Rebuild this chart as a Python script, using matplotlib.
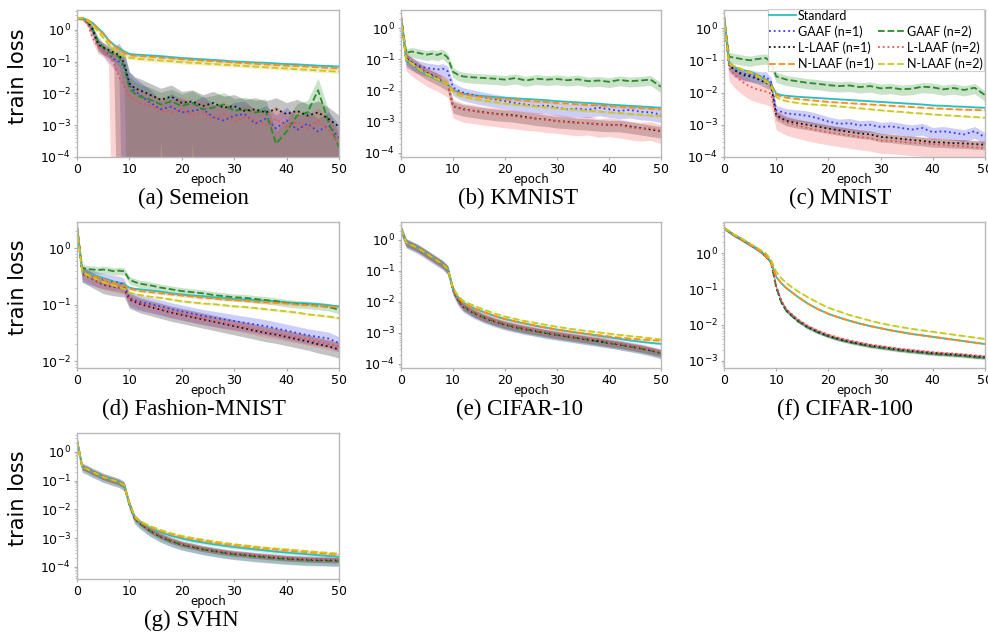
import numpy as np
import matplotlib
matplotlib.use('Agg')
import matplotlib.pyplot as plt
from matplotlib.lines import Line2D
from matplotlib.ticker import NullFormatter, LogLocator

# epochs at which the training loss was logged
epochs = [0, 1, 2, 3, 4, 5, 6, 7, 8, 9, 10, 11, 12,
          14, 16, 18, 20, 22, 24, 26, 28, 30, 32, 34, 36, 38, 40, 42, 44, 46, 48, 50]

names = ['std', 'gaaf1', 'gaaf2', 'llaaf1', 'llaaf2', 'nlaaf1', 'nlaaf2']
labels = {'std': 'Standard', 'gaaf1': 'GAAF (n=1)', 'gaaf2': 'GAAF (n=2)',
          'llaaf1': 'L-LAAF (n=1)', 'llaaf2': 'L-LAAF (n=2)',
          'nlaaf1': 'N-LAAF (n=1)', 'nlaaf2': 'N-LAAF (n=2)'}

# mean train loss, log10
semeion = {
    'std':    [0.37, 0.37, 0.30, 0.21, 0.05, -0.10, -0.32, -0.47, -0.58, -0.68, -0.76, -0.78, -0.79, -0.81, -0.83, -0.86, -0.89, -0.91, -0.93, -0.95, -0.97, -1.00, -1.01, -1.03, -1.04, -1.06, -1.08, -1.09, -1.11, -1.13, -1.14, -1.16],
    'gaaf1':  [0.37, 0.36, 0.24, -0.05, -0.38, -0.60, -0.78, -0.92, -1.00, -1.15, -1.74, -1.92, -2.05, -2.30, -2.50, -2.42, -2.60, -2.55, -2.50, -2.75, -2.85, -2.70, -2.65, -2.95, -2.80, -3.10, -2.85, -3.15, -2.95, -3.20, -3.00, -3.40],
    'gaaf2':  [0.37, 0.36, 0.25, 0.00, -0.35, -0.55, -0.68, -0.78, -0.84, -1.16, -1.84, -2.00, -2.10, -2.20, -2.35, -2.25, -2.40, -2.30, -2.50, -2.45, -2.35, -2.55, -2.50, -2.60, -2.55, -3.58, -3.20, -2.70, -2.60, -1.90, -2.90, -3.70],
    'llaaf1': [0.37, 0.36, 0.26, 0.02, -0.47, -0.56, -0.63, -0.72, -0.79, -1.05, -1.68, -1.84, -1.90, -2.05, -2.20, -2.10, -2.30, -2.25, -2.40, -2.30, -2.45, -2.40, -2.55, -2.50, -2.60, -2.50, -2.65, -2.55, -2.70, -2.60, -2.80, -3.05],
    'llaaf2': [0.37, 0.35, 0.20, -0.26, -0.53, -0.63, -0.79, -1.05, -1.47, -1.79, -2.10, -2.20, -2.30, -2.40, -2.55, -2.60, -2.50, -2.70, -2.60, -2.80, -2.65, -2.90, -2.75, -2.85, -3.00, -2.80, -3.05, -2.90, -3.10, -2.85, -3.15, -3.55],
    'nlaaf1': [0.37, 0.37, 0.31, 0.20, 0.03, -0.13, -0.34, -0.50, -0.62, -0.72, -0.80, -0.82, -0.83, -0.85, -0.88, -0.90, -0.93, -0.95, -0.97, -0.99, -1.01, -1.03, -1.05, -1.07, -1.09, -1.11, -1.13, -1.14, -1.16, -1.18, -1.20, -1.22],
    'nlaaf2': [0.37, 0.36, 0.28, 0.15, -0.05, -0.25, -0.45, -0.62, -0.75, -0.83, -0.88, -0.90, -0.92, -0.94, -0.97, -0.99, -1.02, -1.04, -1.06, -1.08, -1.10, -1.12, -1.14, -1.16, -1.18, -1.20, -1.22, -1.24, -1.26, -1.28, -1.30, -1.32],
}
kmnist = {
    'std':    [0.37, -1.06, -1.18, -1.30, -1.40, -1.50, -1.58, -1.65, -1.72, -1.80, -1.97, -2.05, -2.10, -2.15, -2.18, -2.21, -2.23, -2.25, -2.27, -2.29, -2.31, -2.34, -2.36, -2.38, -2.40, -2.42, -2.45, -2.47, -2.49, -2.51, -2.53, -2.55],
    'gaaf1':  [0.37, -1.00, -1.10, -1.18, -1.24, -1.28, -1.30, -1.33, -1.30, -1.38, -1.90, -2.00, -2.07, -2.15, -2.22, -2.28, -2.34, -2.40, -2.45, -2.50, -2.48, -2.55, -2.60, -2.58, -2.62, -2.55, -2.60, -2.65, -2.62, -2.68, -2.70, -2.77],
    'gaaf2':  [0.37, -0.80, -0.75, -0.78, -0.82, -0.85, -0.82, -0.86, -0.80, -0.95, -1.40, -1.50, -1.55, -1.58, -1.60, -1.62, -1.65, -1.60, -1.68, -1.62, -1.65, -1.63, -1.67, -1.64, -1.70, -1.68, -1.72, -1.66, -1.70, -1.68, -1.65, -1.88],
    'llaaf1': [0.37, -0.96, -1.10, -1.22, -1.33, -1.44, -1.52, -1.60, -1.70, -1.80, -2.50, -2.55, -2.60, -2.65, -2.70, -2.74, -2.77, -2.80, -2.85, -2.90, -2.93, -2.98, -3.00, -3.03, -3.05, -3.08, -3.10, -3.10, -3.15, -3.20, -3.25, -3.30],
    'llaaf2': [0.37, -0.98, -1.13, -1.25, -1.36, -1.47, -1.55, -1.62, -1.72, -1.82, -2.48, -2.55, -2.62, -2.66, -2.72, -2.75, -2.80, -2.83, -2.88, -2.90, -2.95, -2.97, -3.02, -3.05, -3.03, -3.10, -3.08, -3.12, -3.18, -3.22, -3.20, -3.30],
    'nlaaf1': [0.37, -1.02, -1.15, -1.27, -1.38, -1.48, -1.56, -1.63, -1.70, -1.78, -1.98, -2.07, -2.12, -2.18, -2.22, -2.25, -2.28, -2.30, -2.33, -2.35, -2.37, -2.40, -2.42, -2.44, -2.46, -2.48, -2.50, -2.52, -2.54, -2.56, -2.58, -2.60],
    'nlaaf2': [0.37, -1.00, -1.12, -1.25, -1.36, -1.47, -1.56, -1.64, -1.72, -1.80, -2.05, -2.15, -2.20, -2.27, -2.32, -2.37, -2.42, -2.45, -2.48, -2.51, -2.54, -2.57, -2.60, -2.62, -2.65, -2.67, -2.70, -2.72, -2.75, -2.77, -2.80, -2.82],
}
mnist = {
    'std':    [0.37, -1.15, -1.22, -1.28, -1.32, -1.35, -1.42, -1.50, -1.60, -1.72, -2.03, -2.08, -2.10, -2.13, -2.15, -2.17, -2.19, -2.21, -2.23, -2.25, -2.27, -2.29, -2.31, -2.33, -2.35, -2.37, -2.40, -2.41, -2.43, -2.44, -2.46, -2.47],
    'gaaf1':  [0.37, -1.15, -1.30, -1.38, -1.42, -1.45, -1.48, -1.50, -1.50, -1.67, -2.55, -2.60, -2.65, -2.68, -2.72, -2.80, -2.90, -2.97, -2.95, -3.02, -3.00, -3.07, -3.05, -3.10, -3.15, -3.10, -3.23, -3.20, -3.25, -3.30, -3.20, -3.39],
    'gaaf2':  [0.37, -0.89, -0.92, -0.95, -0.98, -1.00, -0.97, -0.95, -0.93, -1.05, -1.50, -1.55, -1.60, -1.65, -1.70, -1.73, -1.77, -1.80, -1.78, -1.83, -1.80, -1.87, -1.85, -1.90, -1.88, -1.82, -1.84, -1.90, -1.86, -1.92, -1.85, -2.08],
    'llaaf1': [0.37, -1.15, -1.30, -1.40, -1.47, -1.50, -1.55, -1.62, -1.70, -1.77, -2.70, -2.80, -2.88, -2.95, -3.00, -3.06, -3.12, -3.17, -3.22, -3.27, -3.30, -3.38, -3.40, -3.44, -3.47, -3.50, -3.54, -3.55, -3.57, -3.58, -3.60, -3.62],
    'llaaf2': [0.37, -1.25, -1.45, -1.60, -1.72, -1.82, -1.88, -1.93, -1.97, -2.03, -2.76, -2.85, -2.93, -3.02, -3.10, -3.17, -3.23, -3.28, -3.33, -3.38, -3.42, -3.49, -3.50, -3.53, -3.56, -3.58, -3.60, -3.62, -3.65, -3.67, -3.70, -3.72],
    'nlaaf1': [0.37, -1.12, -1.20, -1.26, -1.31, -1.36, -1.44, -1.52, -1.62, -1.75, -2.07, -2.13, -2.16, -2.20, -2.23, -2.26, -2.29, -2.31, -2.33, -2.35, -2.37, -2.39, -2.41, -2.43, -2.45, -2.47, -2.49, -2.50, -2.52, -2.53, -2.54, -2.55],
    'nlaaf2': [0.37, -1.10, -1.18, -1.25, -1.32, -1.38, -1.46, -1.55, -1.65, -1.80, -2.14, -2.22, -2.27, -2.32, -2.36, -2.38, -2.40, -2.43, -2.46, -2.49, -2.52, -2.55, -2.58, -2.60, -2.63, -2.65, -2.68, -2.70, -2.72, -2.74, -2.76, -2.78],
}
fashion = {
    'std':    [0.37, -0.41, -0.45, -0.48, -0.50, -0.53, -0.56, -0.59, -0.62, -0.65, -0.70, -0.72, -0.73, -0.75, -0.77, -0.80, -0.82, -0.84, -0.85, -0.87, -0.88, -0.90, -0.91, -0.92, -0.93, -0.94, -0.96, -0.97, -0.98, -0.99, -1.01, -1.03],
    'gaaf1':  [0.37, -0.44, -0.48, -0.51, -0.54, -0.56, -0.58, -0.60, -0.61, -0.65, -0.88, -0.92, -0.95, -0.99, -1.03, -1.08, -1.12, -1.16, -1.20, -1.23, -1.26, -1.29, -1.32, -1.35, -1.38, -1.42, -1.46, -1.50, -1.54, -1.57, -1.60, -1.68],
    'gaaf2':  [0.37, -0.35, -0.37, -0.38, -0.39, -0.38, -0.39, -0.41, -0.40, -0.41, -0.56, -0.60, -0.63, -0.66, -0.70, -0.73, -0.76, -0.78, -0.80, -0.83, -0.85, -0.87, -0.88, -0.90, -0.92, -0.94, -0.97, -0.99, -1.00, -1.02, -1.04, -1.09],
    'llaaf1': [0.37, -0.45, -0.50, -0.55, -0.60, -0.65, -0.67, -0.69, -0.70, -0.71, -0.91, -0.95, -0.99, -1.04, -1.09, -1.14, -1.18, -1.22, -1.26, -1.30, -1.34, -1.38, -1.42, -1.46, -1.50, -1.53, -1.57, -1.61, -1.65, -1.70, -1.74, -1.79],
    'llaaf2': [0.37, -0.44, -0.50, -0.55, -0.60, -0.64, -0.66, -0.68, -0.70, -0.72, -0.90, -0.94, -0.98, -1.03, -1.08, -1.13, -1.17, -1.21, -1.25, -1.29, -1.33, -1.36, -1.40, -1.44, -1.48, -1.51, -1.55, -1.58, -1.62, -1.66, -1.70, -1.74],
    'nlaaf1': [0.37, -0.42, -0.46, -0.49, -0.52, -0.55, -0.58, -0.61, -0.64, -0.67, -0.72, -0.74, -0.76, -0.78, -0.80, -0.82, -0.84, -0.86, -0.88, -0.89, -0.91, -0.92, -0.93, -0.95, -0.96, -0.97, -0.98, -1.00, -1.01, -1.02, -1.03, -1.05],
    'nlaaf2': [0.37, -0.43, -0.48, -0.52, -0.56, -0.60, -0.63, -0.66, -0.69, -0.72, -0.79, -0.81, -0.83, -0.86, -0.88, -0.91, -0.94, -0.96, -0.98, -0.99, -1.01, -1.03, -1.04, -1.06, -1.08, -1.10, -1.12, -1.14, -1.17, -1.19, -1.21, -1.24],
}
cifar10 = {
    'std':    [0.36, -0.08, -0.16, -0.24, -0.34, -0.45, -0.56, -0.67, -0.78, -0.94, -1.58, -1.86, -2.03, -2.20, -2.33, -2.45, -2.55, -2.63, -2.70, -2.77, -2.83, -2.89, -2.94, -2.99, -3.04, -3.09, -3.14, -3.19, -3.24, -3.28, -3.32, -3.35],
    'gaaf1':  [0.36, -0.08, -0.16, -0.24, -0.34, -0.45, -0.56, -0.67, -0.78, -0.94, -1.62, -1.95, -2.15, -2.35, -2.50, -2.62, -2.72, -2.80, -2.87, -2.93, -3.00, -3.05, -3.10, -3.15, -3.20, -3.25, -3.30, -3.36, -3.42, -3.48, -3.56, -3.65],
    'gaaf2':  [0.36, -0.08, -0.16, -0.24, -0.34, -0.45, -0.56, -0.67, -0.78, -0.94, -1.60, -1.93, -2.14, -2.34, -2.50, -2.62, -2.73, -2.81, -2.88, -2.95, -3.01, -3.06, -3.12, -3.17, -3.22, -3.27, -3.33, -3.38, -3.44, -3.50, -3.57, -3.66],
    'llaaf1': [0.36, -0.08, -0.16, -0.24, -0.34, -0.45, -0.56, -0.67, -0.78, -0.94, -1.60, -1.94, -2.15, -2.36, -2.51, -2.63, -2.73, -2.81, -2.88, -2.94, -3.00, -3.06, -3.11, -3.16, -3.21, -3.27, -3.32, -3.37, -3.43, -3.49, -3.56, -3.64],
    'llaaf2': [0.36, -0.08, -0.16, -0.24, -0.34, -0.45, -0.56, -0.67, -0.78, -0.94, -1.58, -1.92, -2.13, -2.34, -2.49, -2.61, -2.71, -2.79, -2.86, -2.92, -2.98, -3.04, -3.09, -3.14, -3.19, -3.20, -3.30, -3.35, -3.41, -3.47, -3.54, -3.62],
    'nlaaf1': [0.36, -0.08, -0.16, -0.24, -0.34, -0.45, -0.56, -0.67, -0.78, -0.94, -1.58, -1.86, -2.03, -2.20, -2.33, -2.45, -2.55, -2.63, -2.70, -2.77, -2.83, -2.89, -2.94, -2.99, -3.03, -3.07, -3.11, -3.15, -3.18, -3.21, -3.23, -3.25],
    'nlaaf2': [0.36, -0.08, -0.16, -0.24, -0.34, -0.45, -0.56, -0.67, -0.78, -0.94, -1.55, -1.80, -1.97, -2.12, -2.25, -2.37, -2.47, -2.55, -2.62, -2.68, -2.74, -2.80, -2.85, -2.90, -2.94, -2.98, -3.02, -3.06, -3.10, -3.13, -3.17, -3.21],
}
cifar100 = {
    'std':    [0.70, 0.60, 0.50, 0.42, 0.33, 0.24, 0.15, 0.05, -0.08, -0.25, -0.66, -0.84, -0.98, -1.20, -1.40, -1.56, -1.69, -1.79, -1.88, -1.96, -2.03, -2.09, -2.15, -2.20, -2.25, -2.29, -2.33, -2.37, -2.41, -2.45, -2.49, -2.53],
    'gaaf1':  [0.70, 0.60, 0.50, 0.42, 0.33, 0.24, 0.15, 0.05, -0.08, -0.25, -0.94, -1.36, -1.60, -1.86, -2.05, -2.19, -2.30, -2.39, -2.46, -2.52, -2.58, -2.62, -2.66, -2.70, -2.73, -2.76, -2.79, -2.81, -2.83, -2.85, -2.88, -2.90],
    'gaaf2':  [0.70, 0.60, 0.50, 0.42, 0.33, 0.24, 0.15, 0.05, -0.08, -0.25, -0.95, -1.38, -1.62, -1.88, -2.07, -2.21, -2.32, -2.41, -2.48, -2.54, -2.60, -2.64, -2.68, -2.72, -2.75, -2.78, -2.81, -2.83, -2.85, -2.87, -2.90, -2.92],
    'llaaf1': [0.70, 0.60, 0.50, 0.42, 0.33, 0.24, 0.15, 0.05, -0.08, -0.25, -0.94, -1.36, -1.60, -1.86, -2.05, -2.19, -2.30, -2.39, -2.46, -2.52, -2.57, -2.61, -2.65, -2.69, -2.72, -2.75, -2.78, -2.80, -2.82, -2.84, -2.87, -2.89],
    'llaaf2': [0.70, 0.60, 0.50, 0.42, 0.33, 0.24, 0.15, 0.05, -0.08, -0.25, -0.92, -1.33, -1.57, -1.83, -2.02, -2.16, -2.27, -2.36, -2.43, -2.49, -2.55, -2.59, -2.63, -2.67, -2.70, -2.73, -2.76, -2.78, -2.80, -2.82, -2.85, -2.87],
    'nlaaf1': [0.70, 0.60, 0.50, 0.42, 0.33, 0.24, 0.15, 0.05, -0.08, -0.25, -0.66, -0.84, -0.98, -1.20, -1.40, -1.56, -1.69, -1.79, -1.88, -1.96, -2.03, -2.09, -2.15, -2.20, -2.25, -2.29, -2.33, -2.37, -2.41, -2.45, -2.49, -2.53],
    'nlaaf2': [0.70, 0.61, 0.52, 0.44, 0.36, 0.27, 0.18, 0.09, 0.00, -0.18, -0.52, -0.70, -0.84, -1.05, -1.22, -1.38, -1.52, -1.62, -1.72, -1.80, -1.88, -1.95, -2.01, -2.06, -2.11, -2.15, -2.19, -2.23, -2.27, -2.31, -2.35, -2.39],
}
svhn = {
    'std':    [0.38, -0.52, -0.60, -0.70, -0.78, -0.87, -0.93, -0.99, -1.05, -1.16, -1.80, -2.28, -2.46, -2.65, -2.80, -2.92, -3.01, -3.09, -3.15, -3.21, -3.26, -3.31, -3.35, -3.39, -3.43, -3.47, -3.50, -3.53, -3.56, -3.59, -3.62, -3.65],
    'gaaf1':  [0.38, -0.52, -0.60, -0.70, -0.78, -0.87, -0.93, -0.99, -1.05, -1.16, -1.82, -2.30, -2.48, -2.75, -2.95, -3.10, -3.22, -3.30, -3.38, -3.44, -3.50, -3.55, -3.58, -3.62, -3.65, -3.68, -3.71, -3.73, -3.75, -3.76, -3.77, -3.78],
    'gaaf2':  [0.38, -0.52, -0.60, -0.70, -0.78, -0.87, -0.93, -0.99, -1.05, -1.16, -1.82, -2.31, -2.49, -2.76, -2.96, -3.11, -3.23, -3.31, -3.39, -3.45, -3.51, -3.56, -3.60, -3.64, -3.67, -3.70, -3.73, -3.75, -3.77, -3.78, -3.79, -3.80],
    'llaaf1': [0.38, -0.52, -0.60, -0.70, -0.78, -0.87, -0.93, -0.99, -1.05, -1.16, -1.81, -2.29, -2.47, -2.74, -2.94, -3.09, -3.21, -3.29, -3.37, -3.43, -3.49, -3.54, -3.57, -3.61, -3.64, -3.67, -3.70, -3.72, -3.74, -3.75, -3.76, -3.77],
    'llaaf2': [0.38, -0.52, -0.60, -0.70, -0.78, -0.87, -0.93, -0.99, -1.05, -1.16, -1.80, -2.28, -2.46, -2.72, -2.92, -3.07, -3.19, -3.27, -3.35, -3.41, -3.47, -3.52, -3.55, -3.59, -3.62, -3.65, -3.68, -3.70, -3.72, -3.73, -3.74, -3.75],
    'nlaaf1': [0.38, -0.52, -0.60, -0.70, -0.78, -0.87, -0.93, -0.99, -1.05, -1.16, -1.80, -2.27, -2.44, -2.62, -2.76, -2.87, -2.96, -3.03, -3.09, -3.15, -3.20, -3.25, -3.29, -3.33, -3.37, -3.40, -3.43, -3.46, -3.49, -3.52, -3.55, -3.58],
    'nlaaf2': [0.38, -0.52, -0.60, -0.70, -0.78, -0.87, -0.93, -0.99, -1.05, -1.16, -1.78, -2.24, -2.40, -2.58, -2.72, -2.83, -2.92, -2.99, -3.05, -3.11, -3.16, -3.21, -3.25, -3.29, -3.33, -3.36, -3.39, -3.42, -3.45, -3.48, -3.51, -3.54],
}

# relative std of the loss over runs (band = mean * (1 +- r))
semeion_spread = {
    'std': 0.12, 'nlaaf1': 0.12, 'nlaaf2': 0.12,
    'gaaf1':  [0.10, 0.10, 0.20, 0.30, 0.40, 0.40, 0.40, 0.50, 0.60, 1.60, 1.60, 1.60, 1.60, 1.60, 0.90, 1.60, 1.60, 0.90, 1.60, 1.60, 1.60, 1.60, 1.60, 1.60, 1.60, 1.60, 1.60, 1.60, 1.60, 1.60, 1.60, 1.60],
    'gaaf2':  [0.10, 0.10, 0.20, 0.30, 0.40, 0.40, 0.40, 0.40, 0.50, 0.80, 1.40, 1.40, 1.40, 1.40, 1.40, 1.40, 1.40, 1.40, 1.40, 1.40, 1.40, 1.40, 1.40, 1.40, 1.40, 1.40, 1.40, 1.40, 1.40, 1.40, 1.40, 1.40],
    'llaaf1': [0.10, 0.10, 0.20, 0.30, 0.40, 0.40, 0.40, 0.50, 1.30, 1.30, 1.30, 1.30, 1.30, 1.30, 1.30, 1.30, 1.30, 1.30, 1.30, 1.30, 1.30, 1.30, 1.30, 1.30, 1.30, 1.30, 1.30, 1.30, 1.30, 1.30, 1.30, 1.30],
    'llaaf2': [0.10, 0.10, 0.20, 0.30, 0.40, 0.40, 0.50, 1.50, 1.50, 1.50, 1.50, 1.50, 1.50, 1.50, 1.50, 1.50, 1.50, 1.50, 1.50, 1.50, 1.50, 1.50, 1.50, 1.50, 1.50, 1.50, 1.50, 1.50, 1.50, 1.50, 1.50, 1.50],
}
kmnist_spread = {'std': 0.08, 'gaaf1': 0.45, 'gaaf2': 0.35, 'llaaf1': 0.4, 'llaaf2': 0.6, 'nlaaf1': 0.1, 'nlaaf2': 0.1}
mnist_spread = {'std': 0.05, 'gaaf1': 0.4, 'gaaf2': 0.35, 'llaaf1': 0.3, 'llaaf2': 0.6, 'nlaaf1': 0.05, 'nlaaf2': 0.05}
fashion_spread = {'std': 0.05, 'gaaf1': 0.3, 'gaaf2': 0.15, 'llaaf1': 0.3, 'llaaf2': 0.2, 'nlaaf1': 0.05, 'nlaaf2': 0.05}
cifar10_spread = {'std': 0.08, 'gaaf1': 0.35, 'gaaf2': 0.3, 'llaaf1': 0.25, 'llaaf2': 0.25, 'nlaaf1': 0.08, 'nlaaf2': 0.08}
cifar100_spread = {'std': 0.05, 'gaaf1': 0.1, 'gaaf2': 0.1, 'llaaf1': 0.1, 'llaaf2': 0.1, 'nlaaf1': 0.05, 'nlaaf2': 0.05}
svhn_spread = {'std': 0.15, 'gaaf1': 0.35, 'gaaf2': 0.35, 'llaaf1': 0.2, 'llaaf2': 0.2, 'nlaaf1': 0.1, 'nlaaf2': 0.1}

styles = {
    'std':    dict(color='#2bbfbf', ls='-'),
    'gaaf1':  dict(color='#3b3bef', ls=':'),
    'gaaf2':  dict(color='#2a8c2a', ls='--'),
    'llaaf1': dict(color='#111111', ls=':'),
    'llaaf2': dict(color='#f05050', ls=':'),
    'nlaaf1': dict(color='#ff8c1a', ls='--'),
    'nlaaf2': dict(color='#c8c820', ls='--'),
}

fig = plt.figure(figsize=(9.88, 6.32), dpi=100)
W, H = 988.0, 632.0

def make_axes(left, top, w, h):
    return fig.add_axes([left / W, 1 - (top + h) / H, w / W, h / H])

def draw(ax, loss, spread, ylog):
    x = np.array(epochs)
    for n in names:
        m = 10 ** np.array(loss[n])
        r = np.broadcast_to(np.asarray(spread[n], dtype=float), m.shape)
        lo = np.clip(m * (1 - r), 1e-9, None)
        hi = m * (1 + r)
        ax.fill_between(x, lo, hi, color=styles[n]['color'], alpha=0.25, lw=0)
        ax.plot(x, m, lw=1.3, **styles[n])
    ax.set_yscale('log')
    ax.set_xlim(0, 50)
    ax.set_ylim(10 ** ylog[0], 10 ** ylog[1])
    ax.set_xticks([0, 10, 20, 30, 40, 50])
    ax.yaxis.set_major_locator(LogLocator(base=10, numticks=10))
    ax.yaxis.set_minor_locator(LogLocator(base=10, subs=np.arange(2, 10), numticks=20))
    ax.yaxis.set_minor_formatter(NullFormatter())
    ax.tick_params(which='major', labelsize=9, length=2.5, color='#aaaaaa', pad=2)
    ax.tick_params(which='minor', length=1.2, color='#bbbbbb')
    for s in ax.spines.values():
        s.set_color('#b8b8b8')
        s.set_linewidth(1.0)
    ax.set_xlabel('epoch', fontsize=8.5, labelpad=-2)

panels = [
    (semeion, semeion_spread, (-4.0, 0.62), (77, 10, 262, 147), (193, 204), '(a) Semeion'),
    (kmnist, kmnist_spread, (-4.13, 0.58), (401, 10, 260, 147), (518, 204), '(b) KMNIST'),
    (mnist, mnist_spread, (-4.0, 0.56), (724, 10, 261, 147), (840, 204), '(c) MNIST'),
    (fashion, fashion_spread, (-2.12, 0.46), (77, 222, 262, 146), (194, 415), '(d) Fashion-MNIST'),
    (cifar10, cifar10_spread, (-4.13, 0.58), (401, 222, 260, 146), (520, 415), '(e) CIFAR-10'),
    (cifar100, cifar100_spread, (-3.2, 0.87), (724, 222, 261, 146), (845, 415), '(f) CIFAR-100'),
    (svhn, svhn_spread, (-4.42, 0.66), (77, 433, 262, 146), (191, 626), '(g) SVHN'),
]

axes = []
for loss, spread, ylog, box, cap, title in panels:
    ax = make_axes(*box)
    draw(ax, loss, spread, ylog)
    fig.text(cap[0] / W, 1 - cap[1] / H, title, ha='center', va='baseline',
             fontsize=16.5, family='Liberation Serif')
    axes.append(ax)

# y label only on the left column
for yc in [76, 287, 498]:
    fig.text(18 / W, 1 - yc / H, 'train loss', rotation=90, ha='center', va='center', fontsize=15)

# legend in the MNIST panel, empty slot keeps Standard alone on its row
h = {n: Line2D([], [], lw=1.3, **styles[n]) for n in names}
blank = Line2D([], [], color='none')
order = [h['std'], h['gaaf1'], h['llaaf1'], h['nlaaf1'], blank, h['gaaf2'], h['llaaf2'], h['nlaaf2']]
texts = [labels['std'], labels['gaaf1'], labels['llaaf1'], labels['nlaaf1'], '',
         labels['gaaf2'], labels['llaaf2'], labels['nlaaf2']]
leg = axes[2].legend(order, texts, ncol=2, loc='upper right', bbox_to_anchor=(0.995, 1.01),
                     prop={'family': 'Lato', 'size': 9}, handlelength=2.1, handletextpad=0.15,
                     columnspacing=0.4, labelspacing=0.28, borderpad=0.1, borderaxespad=0.0,
                     fancybox=False, framealpha=0.9)
leg.get_frame().set_edgecolor('#cccccc')
leg.get_frame().set_linewidth(0.8)

plt.savefig('out.png', dpi=100)
